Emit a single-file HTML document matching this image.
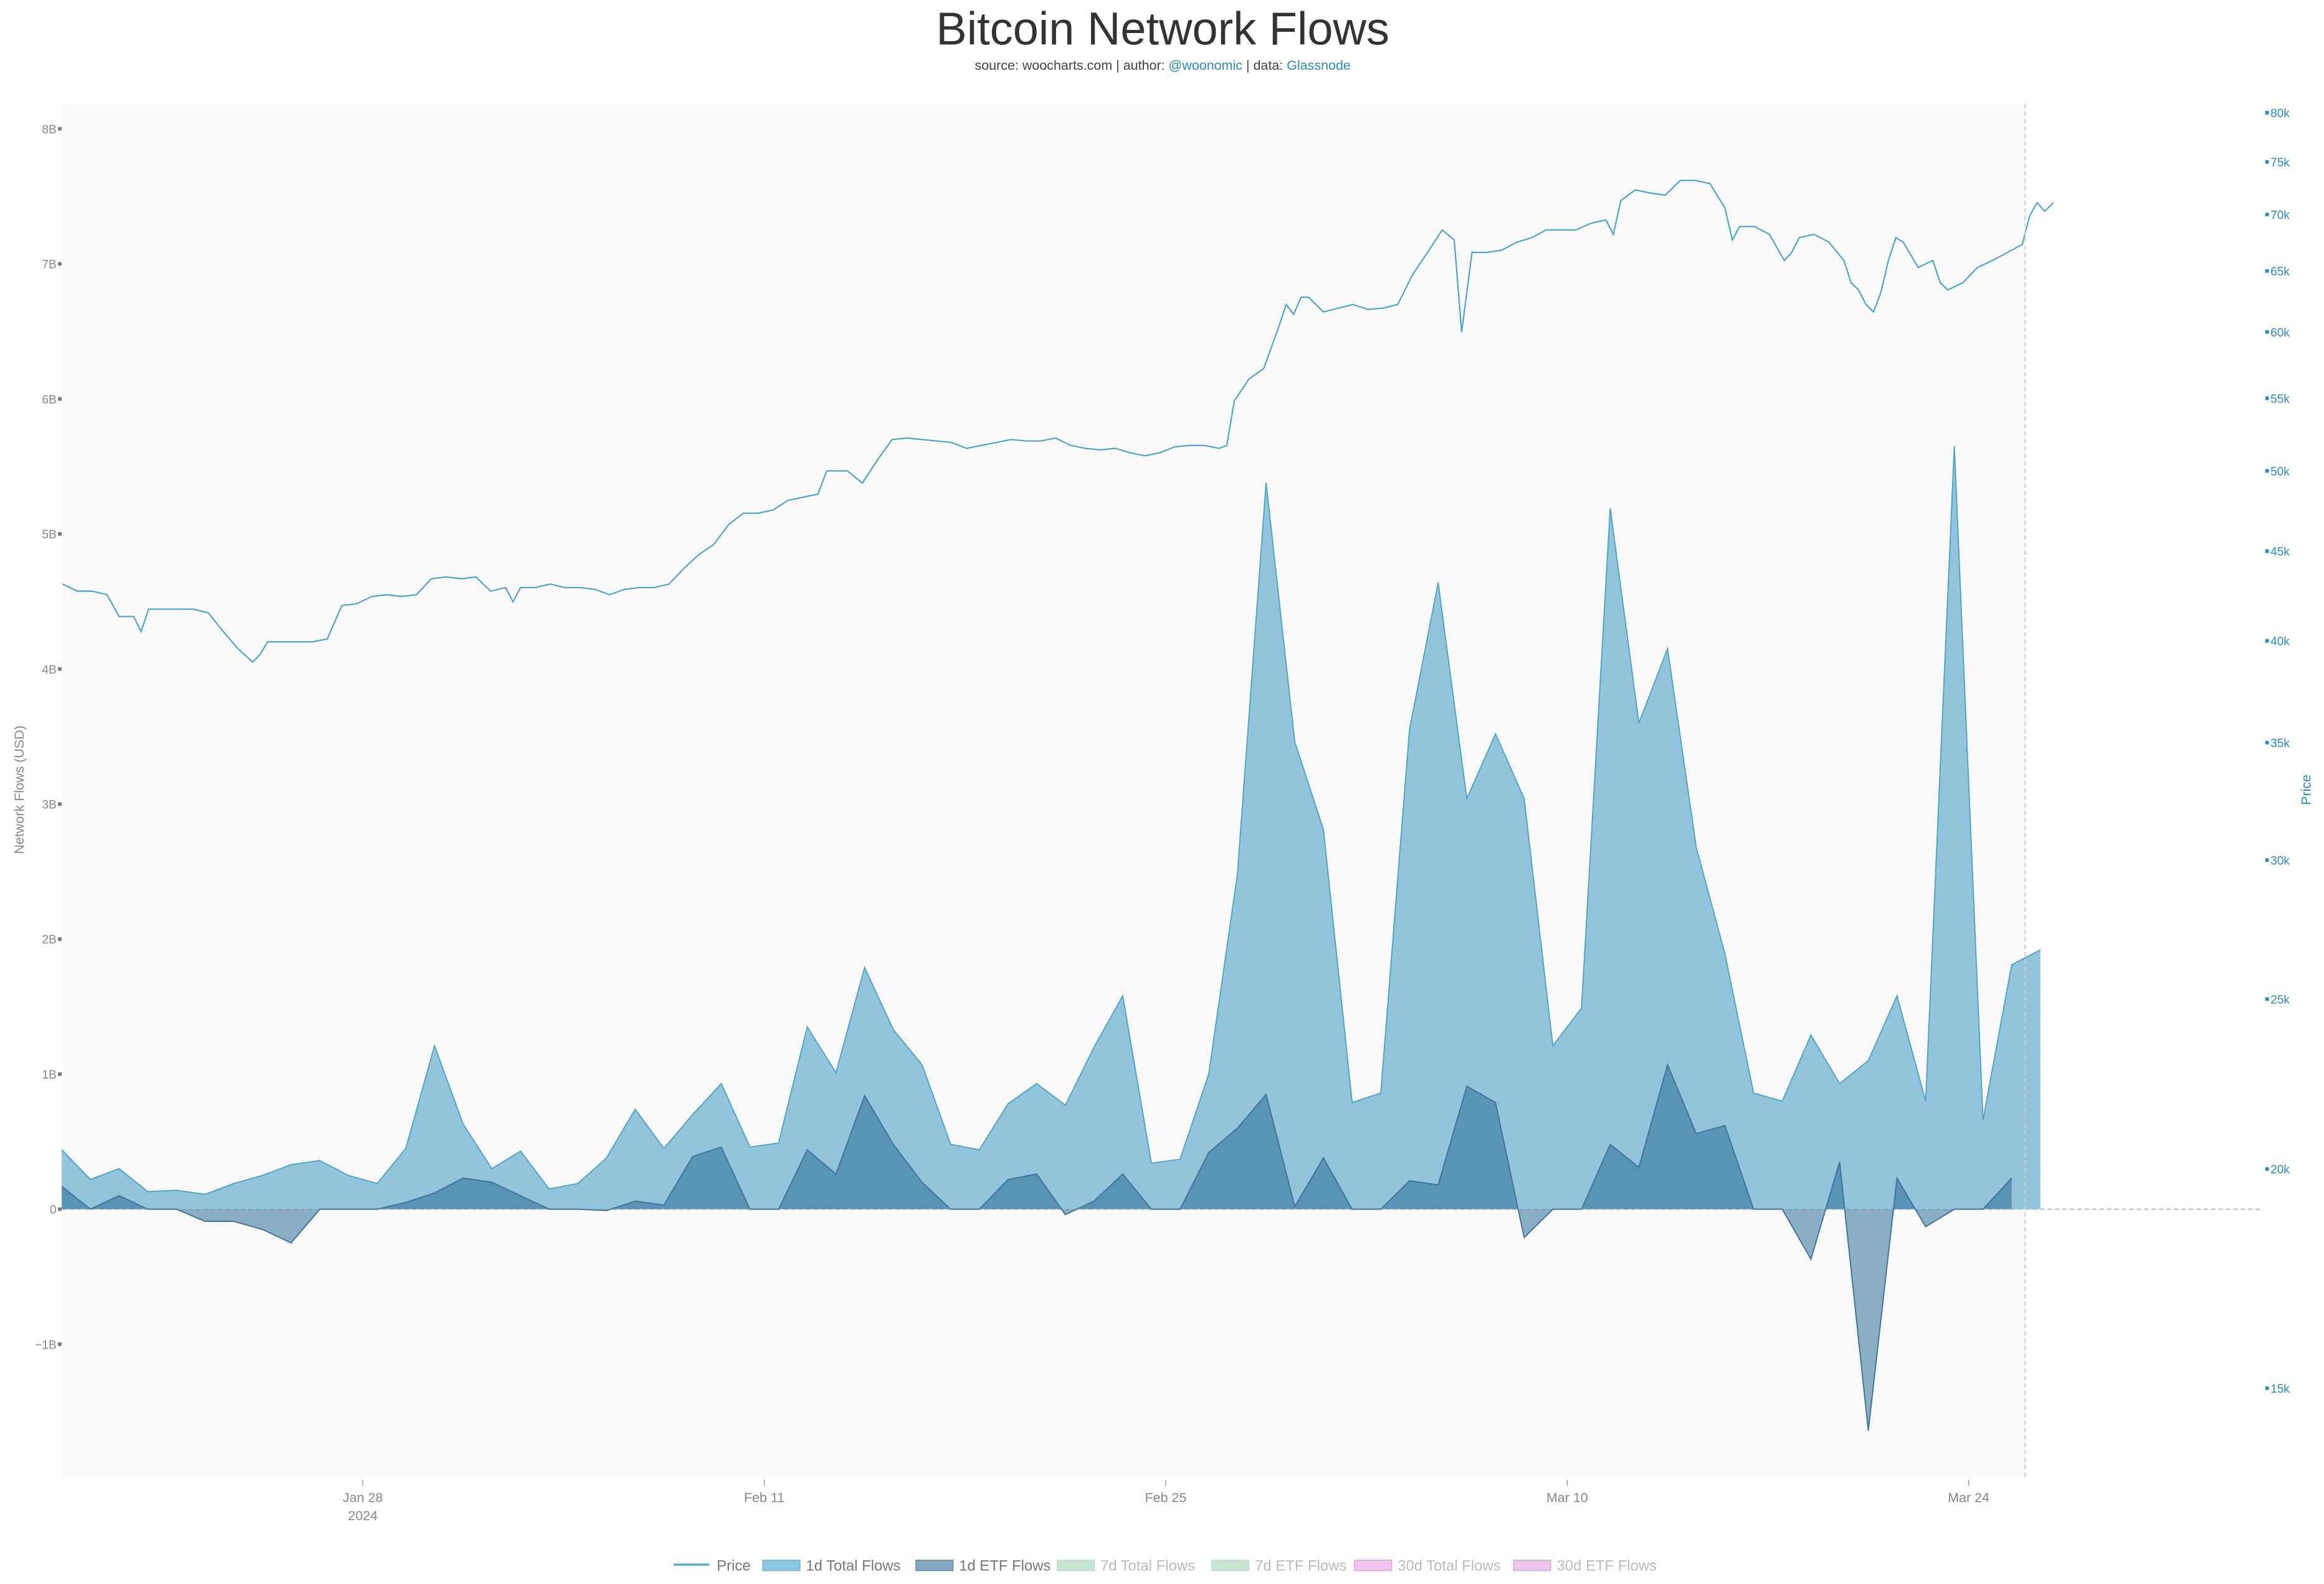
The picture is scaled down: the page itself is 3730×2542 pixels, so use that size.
<!DOCTYPE html>
<html><head><meta charset="utf-8"><title>Bitcoin Network Flows</title>
<style>
html,body{margin:0;padding:0;background:#fff;}
svg{display:block;font-family:"Liberation Sans Narrow","Liberation Sans",sans-serif;}
</style></head>
<body>
<svg id="chart" width="3730" height="2542" viewBox="0 0 1563 1065" preserveAspectRatio="none" xmlns="http://www.w3.org/2000/svg">
<rect x="42" y="70" width="1320" height="923" fill="#f9f9f9"/>
<text x="782" y="30" text-anchor="middle" font-size="31" fill="#333" font-weight="300">Bitcoin Network Flows</text>
<text x="782" y="47" text-anchor="middle" font-size="9" fill="#444">source: woocharts.com | author: <tspan fill="#2a8bbf">@woonomic</tspan> | data: <tspan fill="#2a8bbf">Glassnode</tspan></text>
<text transform="translate(16,531) rotate(-90)" text-anchor="middle" font-size="9" fill="#888">Network Flows (USD)</text>
<text transform="translate(1554,531) rotate(-90)" text-anchor="middle" font-size="9" fill="#2a8bbf">Price</text>
<g id="axes"></g>
<g id="marks"></g>
<line x1="1362" y1="70" x2="1362" y2="993" stroke="#ccc" stroke-width="0.8" stroke-dasharray="3,2"/>
<g id="legend"></g>
</svg>
<script>
// flow data: daily, first point day offset (from Jan 28) below
const flowStartDay = -10.5;
const totalFlows = [0.44,0.22,0.30,0.13,0.14,0.11,0.19,0.25,0.33,0.36,0.25,0.19,0.45,1.21,0.63,0.30,0.43,0.15,0.19,0.38,0.74,0.45,0.70,0.93,0.46,0.49,1.35,1.01,1.79,1.33,1.07,0.48,0.44,0.78,0.93,0.77,1.20,1.58,0.34,0.37,1.00,2.48,5.38,3.46,2.81,0.79,0.86,3.55,4.64,3.04,3.52,3.04,1.21,1.49,5.19,3.60,4.15,2.68,1.89,0.86,0.80,1.29,0.93,1.10,1.58,0.80,5.65,0.66,1.81,1.92];
const etfFlows = [0.17,0.0,0.10,0,0,-0.09,-0.09,-0.15,-0.25,0.0,0,0,0.05,0.12,0.23,0.20,0.10,0,0,-0.01,0.06,0.03,0.39,0.46,0,0,0.44,0.26,0.84,0.48,0.20,0,0,0.22,0.26,-0.04,0.06,0.26,0,0,0.42,0.60,0.85,0.02,0.38,0,0,0.21,0.18,0.91,0.79,-0.21,0,0,0.48,0.31,1.07,0.56,0.62,0,0,-0.37,0.35,-1.64,0.23,-0.13,0,0,0.23];
const priceDays = [-10.47,-9.96,-9.44,-8.92,-8.50,-7.99,-7.73,-7.47,-6.95,-6.43,-5.91,-5.39,-4.87,-4.36,-3.84,-3.58,-3.32,-2.80,-2.28,-1.76,-1.24,-0.73,-0.21,0.31,0.83,1.35,1.87,2.39,2.90,3.42,3.94,4.46,4.98,5.24,5.50,6.01,6.53,7.05,7.57,8.09,8.61,9.13,9.64,10.16,10.68,11.20,11.72,12.24,12.76,13.27,13.79,14.31,14.83,15.35,15.87,16.18,16.90,17.42,17.94,18.46,18.98,19.50,20.01,20.53,21.05,21.57,22.09,22.61,23.13,23.64,24.16,24.68,25.20,25.72,26.24,26.76,27.27,27.79,28.31,28.83,29.35,29.87,30.13,30.39,30.90,31.42,31.94,32.20,32.46,32.72,32.98,33.50,34.01,34.53,35.05,35.57,36.09,36.61,37.13,37.64,38.06,38.32,38.68,39.20,39.72,40.24,40.76,41.27,41.79,42.31,42.83,43.35,43.61,43.87,44.38,44.90,45.42,45.94,46.46,46.98,47.50,47.76,48.01,48.53,49.05,49.57,49.83,50.09,50.61,51.13,51.65,51.90,52.16,52.42,52.68,52.94,53.20,53.46,53.72,54.24,54.75,55.01,55.27,55.79,56.31,56.83,57.35,57.87,58.13,58.39,58.65,58.96];
const prices = [43100,42700,42700,42500,41300,41300,40500,41700,41700,41700,41700,41500,40500,39600,38900,39300,39950,39950,39950,39950,40100,41900,42000,42400,42500,42400,42500,43400,43500,43400,43500,42700,42900,42100,42900,42900,43100,42900,42900,42800,42500,42800,42900,42900,43100,44000,44800,45400,46600,47300,47300,47500,48100,48300,48500,50000,50000,49200,50700,52100,52200,52100,52000,51900,51500,51700,51900,52100,52000,52000,52200,51700,51500,51400,51500,51200,51000,51200,51600,51700,51700,51500,51700,54800,56400,57200,60400,62200,61400,62800,62800,61600,61900,62200,61800,61900,62200,64700,66600,68600,67700,60000,66600,66600,66800,67500,67900,68600,68600,68600,69200,69500,68200,71300,72300,72000,71800,73200,73200,72900,70600,67700,68900,68900,68200,65900,66600,67900,68200,67500,65900,64000,63400,62200,61600,63200,65900,67900,67500,65300,65900,64000,63400,64000,65300,65900,66600,67300,69900,71100,70300,71100];
const flowTicks = [-1,0,1,2,3,4,5,6,7,8];
const flowTickLabels = ["\u22121B","0","1B","2B","3B","4B","5B","6B","7B","8B"];
const priceTicks = [15000,20000,25000,30000,35000,40000,45000,50000,55000,60000,65000,70000,75000,80000];
const priceTickLabels = ["15k","20k","25k","30k","35k","40k","45k","50k","55k","60k","65k","70k","75k","80k"];
const dateTicks = [0,14,28,42,56];
const dateTickLabels = ["Jan 28","Feb 11","Feb 25","Mar 10","Mar 24"];
const legendNames = ["Price","1d Total Flows","1d ETF Flows","7d Total Flows","7d ETF Flows","30d Total Flows","30d ETF Flows"];

const NS="http://www.w3.org/2000/svg";
const xScale = d => 244 + d*19.286;
const yFlow = v => 813 - v*90.8;
const yPrice = p => 786 - 1179.6*Math.log10(p/20000);
function mk(tag, parent){const e=document.createElementNS(NS,tag);parent.appendChild(e);return e;}
const axes=document.getElementById('axes'), marks=document.getElementById('marks'), legend=document.getElementById('legend');

// zero line
const zl=mk('line',axes);


zl.setAttribute('x1',42);zl.setAttribute('x2',1522);zl.setAttribute('y1',yFlow(0));zl.setAttribute('y2',yFlow(0));
zl.setAttribute('stroke','#bbb');zl.setAttribute('stroke-width','0.8');zl.setAttribute('stroke-dasharray','3,2');

flowTicks.forEach((v,i)=>{
  const y=yFlow(v);
  const r=mk('rect',axes);
  
  
  r.setAttribute('x',39);r.setAttribute('y',y-1.2);r.setAttribute('width',2.4);r.setAttribute('height',2.4);r.setAttribute('fill','#777');
  const t=mk('text',axes);
  
  
  t.setAttribute('x',38);t.setAttribute('y',y+3);t.setAttribute('text-anchor','end');t.setAttribute('font-size','8');t.setAttribute('fill','#888');
  t.textContent=flowTickLabels[i];
});
priceTicks.forEach((p,i)=>{
  const y=yPrice(p);
  const r=mk('rect',axes);
  
  
  r.setAttribute('x',1523.5);r.setAttribute('y',y-1.2);r.setAttribute('width',2.4);r.setAttribute('height',2.4);r.setAttribute('fill','#2a8bbf');
  const t=mk('text',axes);
  
  
  t.setAttribute('x',1527);t.setAttribute('y',y+3);t.setAttribute('font-size','8');t.setAttribute('fill','#2a8bbf');
  t.textContent=priceTickLabels[i];
});
dateTicks.forEach((d,i)=>{
  const x=xScale(d);
  const l=mk('line',axes);
  
  
  l.setAttribute('x1',x);l.setAttribute('x2',x);l.setAttribute('y1',995);l.setAttribute('y2',999);l.setAttribute('stroke','#999');l.setAttribute('stroke-width','0.6');
  const t=mk('text',axes);
  
  
  t.setAttribute('x',x);t.setAttribute('y',1010);t.setAttribute('text-anchor','middle');t.setAttribute('font-size','9');t.setAttribute('fill','#888');
  t.textContent=dateTickLabels[i];
  if(i===0){
    const t2=mk('text',axes);
    
    
    t2.setAttribute('x',x);t2.setAttribute('y',1022);t2.setAttribute('text-anchor','middle');t2.setAttribute('font-size','9');t2.setAttribute('fill','#888');
    t2.textContent='2024';
  }
});

function areaPath(vals){
  let pts=vals.map((v,i)=>[xScale(flowStartDay+i),yFlow(v)]);
  let d='M'+pts[0][0]+','+yFlow(0);
  pts.forEach(p=>{d+=' L'+p[0].toFixed(2)+','+p[1].toFixed(2);});
  d+=' L'+pts[pts.length-1][0]+','+yFlow(0)+' Z';
  return d;
}
function linePath(vals){
  return vals.map((v,i)=>(i?'L':'M')+xScale(flowStartDay+i).toFixed(2)+','+yFlow(v).toFixed(2)).join(' ');
}
const ta=mk('path',marks);


ta.setAttribute('d',areaPath(totalFlows));ta.setAttribute('fill','#92c5dc');
const tl=mk('path',marks);


tl.setAttribute('d',linePath(totalFlows));tl.setAttribute('fill','none');tl.setAttribute('stroke','#4fa3c7');tl.setAttribute('stroke-width','0.8');
const ea=mk('path',marks);


ea.setAttribute('d',areaPath(etfFlows));ea.setAttribute('fill','rgba(27,99,143,0.5)');
const el=mk('path',marks);


el.setAttribute('d',linePath(etfFlows));el.setAttribute('fill','none');el.setAttribute('stroke','#3f7398');el.setAttribute('stroke-width','0.8');

const pl=mk('path',marks);


pl.setAttribute('d',prices.map((p,i)=>(i?'L':'M')+xScale(priceDays[i]).toFixed(2)+','+yPrice(p).toFixed(2)).join(' '));
pl.setAttribute('fill','none');pl.setAttribute('stroke','#4aa3c8');pl.setAttribute('stroke-width','0.9');

// legend
const legX=[453,513,616,711,815,911,1018];
const legFill=['#5aaed0','#8cc6df','#86a9c1','#c8e4d4','#c8e4d4','#f0c4ee','#ecc6ea'];
const legStroke=['#5aaed0','#6ab4d4','#5f8aa8','#bcdccb','#bcdccb','#dda0dd','#d8a8d8'];
const legText=['#777','#777','#777','#bbb','#bbb','#bbb','#bbb'];
legendNames.forEach((n,i)=>{
  const g=mk('g',legend);
  
  
  if(i===0){
    const l=mk('line',g);
    
    
    l.setAttribute('x1',legX[i]);l.setAttribute('x2',legX[i]+24);l.setAttribute('y1',1052);l.setAttribute('y2',1052);l.setAttribute('stroke',legFill[i]);l.setAttribute('stroke-width','1.5');
  } else {
    const r=mk('rect',g);
    
    
    r.setAttribute('x',legX[i]);r.setAttribute('y',1049);r.setAttribute('width',25);r.setAttribute('height',7);r.setAttribute('fill',legFill[i]);r.setAttribute('stroke',legStroke[i]);r.setAttribute('stroke-width','0.6');
  }
  const t=mk('text',g);
  
  
  t.setAttribute('x',legX[i]+29);t.setAttribute('y',1056);t.setAttribute('font-size','10');t.setAttribute('fill',legText[i]);
  t.textContent=n;
});
</script>
</body></html>
